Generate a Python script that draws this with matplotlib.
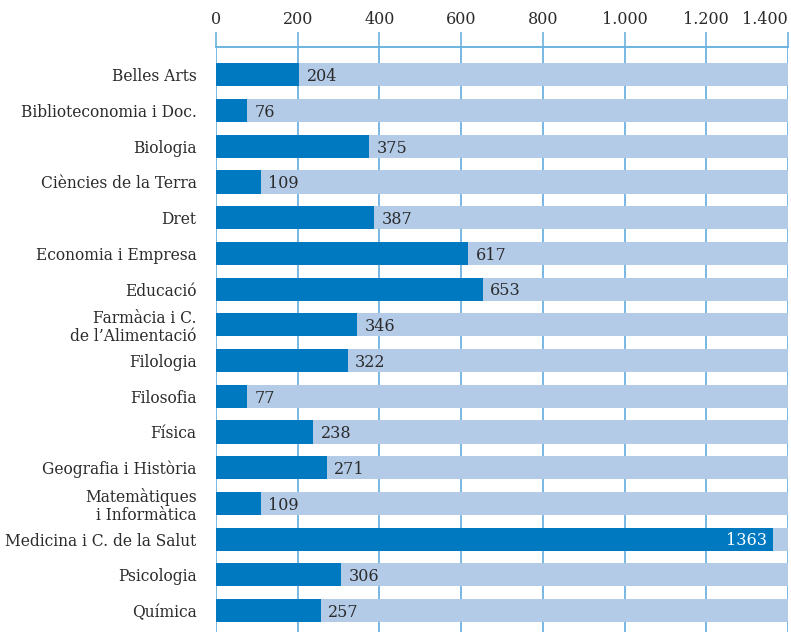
import matplotlib
matplotlib.use('Agg')
import matplotlib.pyplot as plt
from matplotlib.ticker import FuncFormatter

# dades
categories = [
    'Belles Arts', 'Biblioteconomia i Doc.', 'Biologia', 'Ciències de la Terra',
    'Dret', 'Economia i Empresa', 'Educació', 'Farmàcia i C.\nde l’Alimentació',
    'Filologia', 'Filosofia', 'Física', 'Geografia i Història',
    'Matemàtiques\ni Informàtica', 'Medicina i C. de la Salut', 'Psicologia', 'Química',
]
values = [204, 76, 375, 109, 387, 617, 653, 346, 322, 77, 238, 271, 109, 1363, 306, 257]
x_max = 1400

dark = '#0079c1'
light = '#b4cbe8'
grid_c = '#6cb2e0'
text_c = '#2b2b2b'

plt.rcParams['font.family'] = ['DejaVu Serif']

fig = plt.figure(figsize=(7.91, 6.32), dpi=100)
ax = fig.add_axes([216 / 791, 0, 572 / 791, 1 - 47 / 632])

y = list(range(len(categories)))
ax.barh(y, [x_max] * len(y), height=0.65, color=light, zorder=2)
ax.barh(y, values, height=0.65, color=dark, zorder=3)

for yi, v in zip(y, values):
    if v > 1200:
        ax.text(v - 14, yi + 0.05, str(v), ha='right', va='center', color='white',
                fontsize=11.5, zorder=4)
    else:
        ax.text(v + 18, yi + 0.05, str(v), ha='left', va='center', color=text_c,
                fontsize=11.5, zorder=4)

ax.set_xlim(0, x_max)
ax.set_ylim(15.6, -0.78)
ax.set_xticks(range(0, x_max + 1, 200))
ax.xaxis.set_major_formatter(FuncFormatter(lambda v, p: f'{int(v):,}'.replace(',', '.')))
ax.xaxis.tick_top()
ax.tick_params(axis='x', length=11, width=1.2, color=grid_c, pad=3,
               labelsize=11.5, labelcolor=text_c)
ax.grid(axis='x', color=grid_c, linewidth=1.3, zorder=1)
# l'última etiqueta queda alineada a la dreta
ax.get_xticklabels()[-1].set_horizontalalignment('right')

ax.set_yticks(y)
ax.set_yticklabels(categories, linespacing=1.1)
ax.tick_params(axis='y', length=0, pad=14, labelsize=11.2, labelcolor=text_c)

for s in ['left', 'right', 'bottom']:
    ax.spines[s].set_visible(False)
ax.spines['top'].set_color(grid_c)
ax.spines['top'].set_linewidth(1.4)

fig.savefig('out.png', dpi=100)
